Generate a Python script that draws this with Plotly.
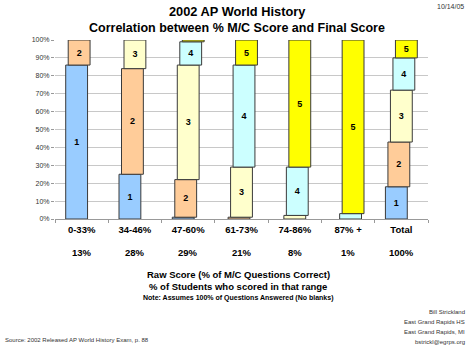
import plotly.graph_objects as go

# ---------------- data ----------------
categories = ["0-33%", "34-46%", "47-60%", "61-73%", "74-86%", "87% +", "Total"]
pct_students = ["13%", "28%", "29%", "21%", "8%", "1%", "100%"]
score_levels = ["1", "2", "3", "4", "5"]

# share (%) of each final AP score within each raw-score range (None = no students)
score1 = [86, 25, 1, None, None, None, 18]
score2 = [14, 59, 21, 1, None, None, 25]
score3 = [None, 16, 64, 28, 2, None, 29]
score4 = [None, None, 13, 57, 27, 3, 18]
score5 = [None, None, 1, 14, 71, 97, 10]
series = [score1, score2, score3, score4, score5]

colors = ["#99CCFF", "#FFCC99", "#FFFFCC", "#CCFFFF", "#FFFF00"]

# ---------------- geometry (pixels) ----------------
W, H = 474, 351
L, R, T, B = 55, 46, 40, 132
PW, PH = W - L - R, H - T - B


def py(y):  # pixel y -> paper y
    return (H - B - y) / PH


def px(x):  # pixel x -> paper x
    return (x - L) / PW


bar_w = 0.41
step = 0.047

fig = go.Figure()
bottoms = [0.0] * len(categories)
for k, vals in enumerate(series):
    base = []
    for i, v in enumerate(vals):
        base.append(bottoms[i] if v is not None else None)
        if v is not None:
            bottoms[i] += v
    labels = [score_levels[k] if (v is not None and v >= 5) else "" for v in vals]
    fig.add_trace(go.Bar(
        x=categories, y=vals, base=base,
        width=bar_w, offset=-bar_w / 2 + (k - 2) * step,
        marker=dict(color=colors[k], line=dict(color="#3a3a3a", width=1)),
        text=labels, texttemplate="<b>%{text}</b>",
        textposition="inside", insidetextanchor="middle", textangle=0,
        textfont=dict(family="Liberation Sans", size=9, color="#000000"),
        constraintext="none", showlegend=False, hoverinfo="skip",
    ))

fig.update_layout(
    width=W, height=H, margin=dict(l=L, r=R, t=T, b=B),
    barmode="overlay", plot_bgcolor="white", paper_bgcolor="white",
    font=dict(family="Liberation Sans", color="#000"),
    showlegend=False,
)
fig.update_yaxes(
    range=[0, 100], tickvals=list(range(0, 101, 10)),
    ticktext=[f"{v}%" for v in range(0, 101, 10)],
    tickfont=dict(size=7, color="#333"),
    showgrid=True, gridcolor="#c8c8c8", gridwidth=1,
    ticks="outside", ticklen=3, tickcolor="#999",
    showline=False, zeroline=False,
)
fig.update_xaxes(
    type="category", range=[-0.5, 6.5],
    tickfont=dict(size=9.5, color="#000", weight="bold"),
    showline=True, linecolor="#999", linewidth=1,
    ticks="outside", ticklen=3, tickcolor="#999", tickson="boundaries",
    ticklabelstandoff=2, showgrid=False,
)

ann = []
# title
ann.append(dict(text="<b>2002 AP World History</b>", x=px(237), xref="paper",
                y=py(12), yref="paper", showarrow=False,
                font=dict(size=12.8), xanchor="center", yanchor="middle"))
ann.append(dict(text="<b>Correlation between % M/C Score and Final Score</b>",
                x=px(237), xref="paper", y=py(28), yref="paper", showarrow=False,
                font=dict(size=12.5), xanchor="center", yanchor="middle"))
ann.append(dict(text="10/14/05", x=px(466), xref="paper", y=py(7), yref="paper",
                showarrow=False, font=dict(size=7, color="#333"),
                xanchor="right", yanchor="middle"))
# percent of students row
for c, p in zip(categories, pct_students):
    ann.append(dict(text=f"<b>{p}</b>", x=c, xref="x", y=py(253), yref="paper",
                    showarrow=False, font=dict(size=9.5), xanchor="center",
                    yanchor="middle"))
# axis title lines
ann.append(dict(text="<b>Raw Score (% of M/C Questions Correct)</b>", x=px(238),
                xref="paper", y=py(274), yref="paper", showarrow=False,
                font=dict(size=9.5), xanchor="center", yanchor="middle"))
ann.append(dict(text="<b>% of Students who scored in that range</b>", x=px(238),
                xref="paper", y=py(286), yref="paper", showarrow=False,
                font=dict(size=9.5), xanchor="center", yanchor="middle"))
ann.append(dict(text="<b>Note: Assumes 100% of Questions Answered (No blanks)</b>",
                x=px(238), xref="paper", y=py(298), yref="paper", showarrow=False,
                font=dict(size=7), xanchor="center", yanchor="middle"))
# author block
for t, yy in zip(["Bill Strickland", "East Grand Rapids HS", "East Grand Rapids, MI",
                  "bstrickl@egrps.org"], [312, 322, 332, 342]):
    ann.append(dict(text=t, x=px(467), xref="paper", y=py(yy), yref="paper",
                    showarrow=False, font=dict(size=6, color="#333"),
                    xanchor="right", yanchor="middle"))
ann.append(dict(text="Source: 2002 Released AP World History Exam, p. 88",
                x=px(3), xref="paper", y=py(340), yref="paper", showarrow=False,
                font=dict(size=6, color="#333"), xanchor="left", yanchor="middle"))
fig.update_layout(annotations=ann)

fig.write_html("out.html")
